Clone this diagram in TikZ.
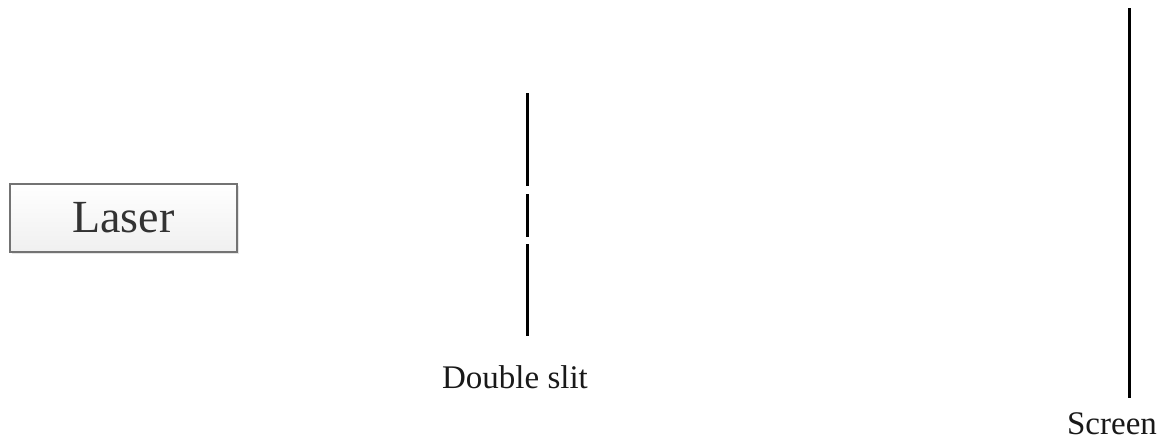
\documentclass[tikz,border=0pt]{standalone}
\usepackage{fontspec}
\setmainfont{Liberation Serif}
\usetikzlibrary{shadows}
\begin{document}
\begin{tikzpicture}[x=1pt,y=-1pt,
  barrier/.style={line width=3pt,black},
  lbl/.style={font=\fontsize{33}{38}\selectfont,text=black!90,inner sep=0pt},
  laserbox/.style={draw=black!55,line width=1.2pt,top color=white,bottom color=black!6,
     minimum width=227pt,minimum height=68pt,inner sep=0pt,
     drop shadow={shadow xshift=2pt,shadow yshift=-2pt,opacity=0.25,fill=black!40},
     font=\fontsize{46}{52}\selectfont,text=black!80}]
\useasboundingbox (0,0) rectangle (1159,440);
\node[laserbox] (laser) at (123.5,218) {Laser};
% double slit
\coordinate (s1) at (527,93);
\coordinate (s2) at (527,186);
\coordinate (s3) at (527,194);
\coordinate (s4) at (527,237);
\coordinate (s5) at (527,244);
\coordinate (s6) at (527,336);
\draw[barrier] (s1) -- (s2);
\draw[barrier] (s3) -- (s4);
\draw[barrier] (s5) -- (s6);
\node[lbl] (dslit) at (515,377) {Double slit};
% screen
\coordinate (c1) at (1129,8);
\coordinate (c2) at (1129,398);
\draw[barrier] (c1) -- (c2);
\node[lbl] (screen) at (1112,424) {Screen};
\end{tikzpicture}
\end{document}
